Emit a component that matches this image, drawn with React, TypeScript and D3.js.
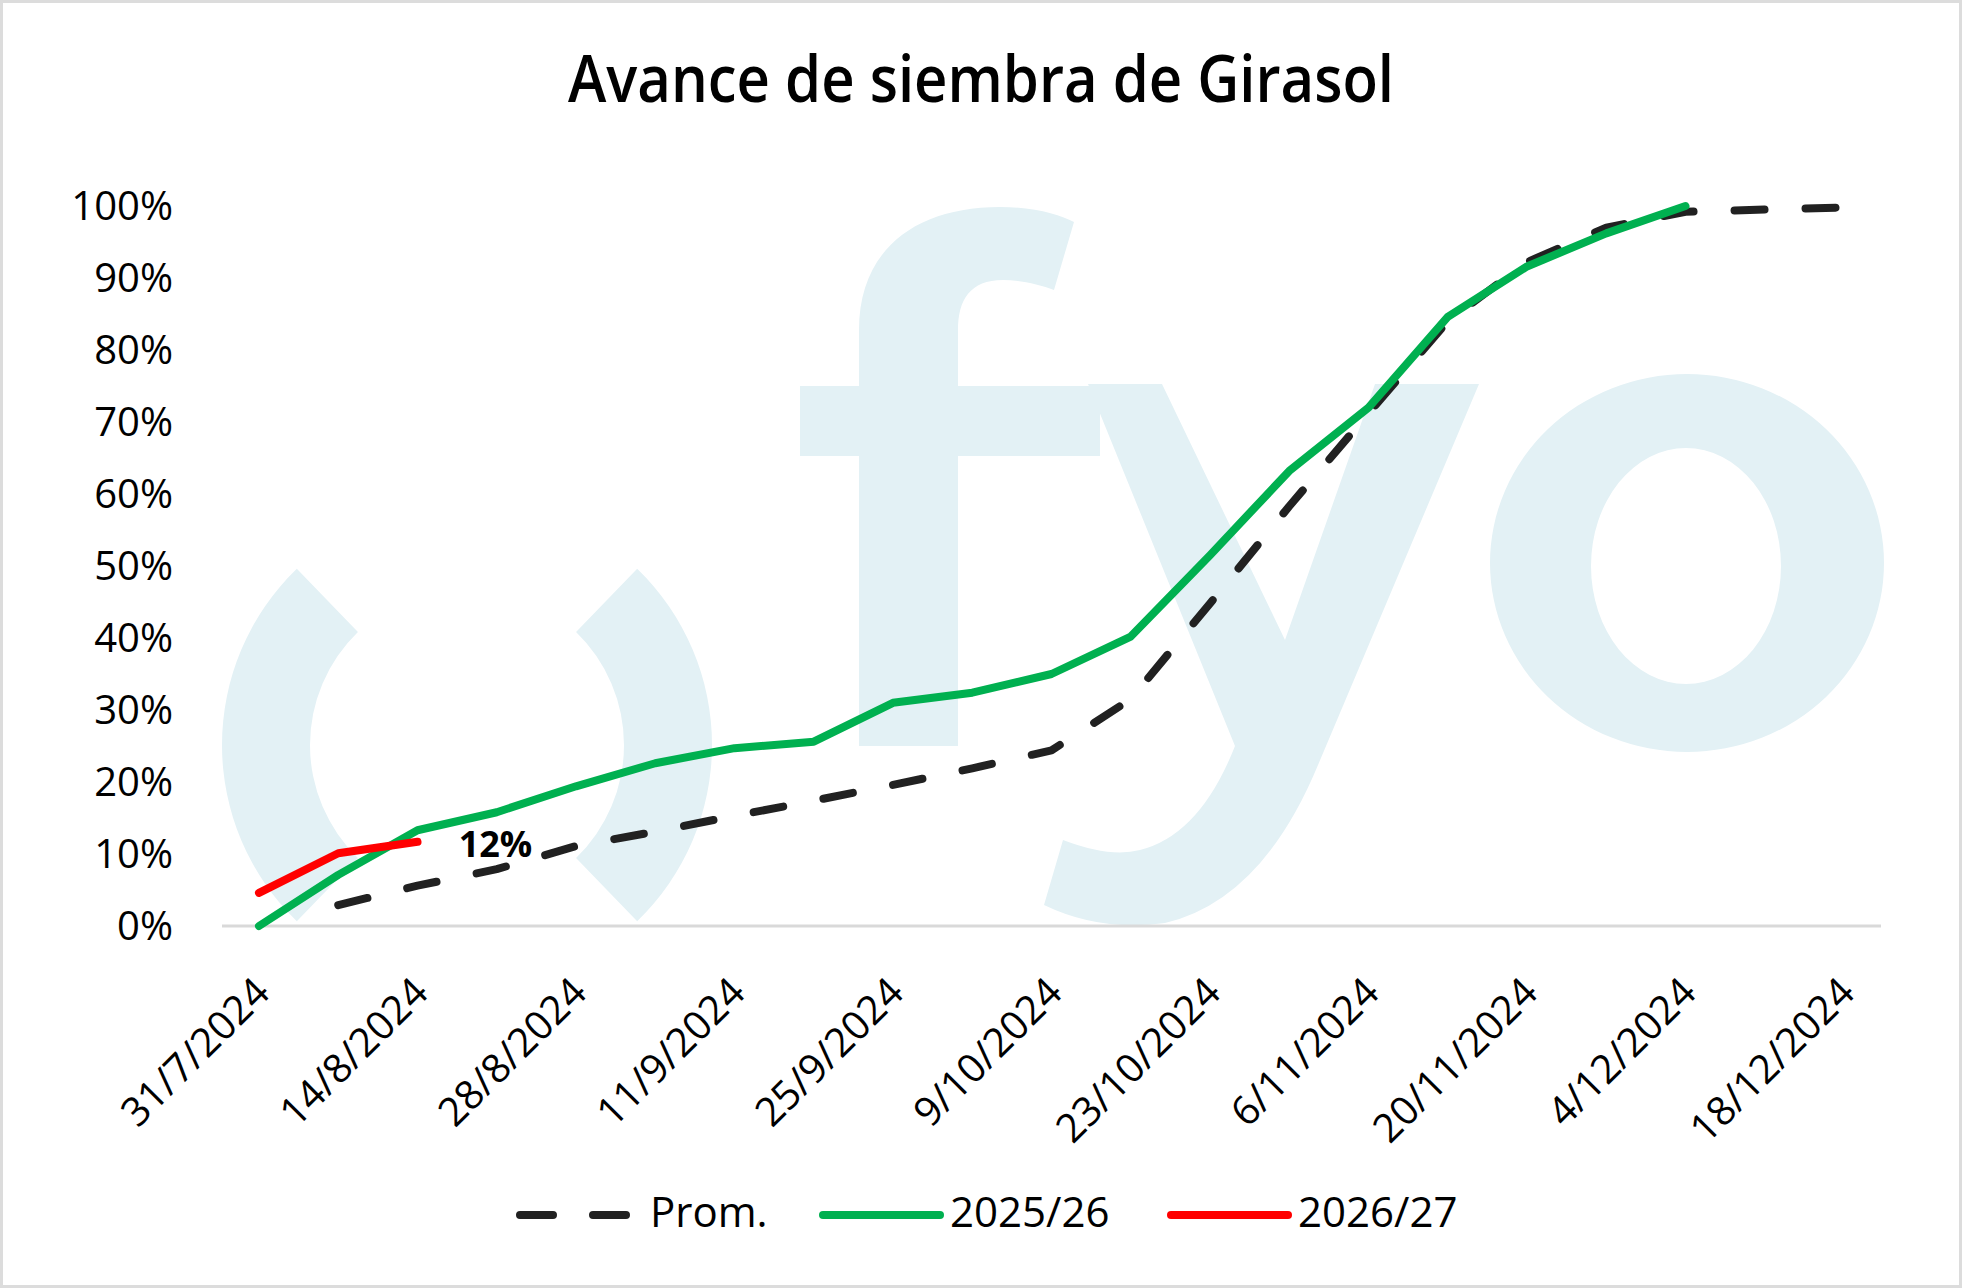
import * as d3 from "d3";
import { useEffect, useRef } from "react";

// semanas (miércoles) desde 31/7 hasta 18/12
const weekDates = [
    "31/7/2024", "7/8/2024", "14/8/2024", "21/8/2024", "28/8/2024", "4/9/2024",
    "11/9/2024", "18/9/2024", "25/9/2024", "2/10/2024", "9/10/2024", "16/10/2024",
    "23/10/2024", "30/10/2024", "6/11/2024", "13/11/2024", "20/11/2024", "27/11/2024",
    "4/12/2024", "11/12/2024", "18/12/2024",
];

const promValues = [
    null, 2.9, 5.6, 7.9, 11.1, 13.1, 15.3, 17.4, 19.6, 21.9, 24.4, 31.5,
    44.8, 58.3, 71.2, 84.0, 92.2, 97.0, 99.2, 99.5, 99.8,
];

const values2526 = [
    0, 7.1, 13.3, 15.8, 19.4, 22.6, 24.7, 25.6, 31.0, 32.4, 35.0, 40.2,
    51.5, 63.2, 72.0, 84.6, 91.6, 96.2, 100, null, null,
];

const values2627 = [
    4.6, 10.1, 11.7, null, null, null, null, null, null, null, null, null,
    null, null, null, null, null, null, null, null, null,
];

const tickLabels = [
    "31/7/2024", "14/8/2024", "28/8/2024", "11/9/2024", "25/9/2024", "9/10/2024",
    "23/10/2024", "6/11/2024", "20/11/2024", "4/12/2024", "18/12/2024",
];

const yTicks = [0, 10, 20, 30, 40, 50, 60, 70, 80, 90, 100];

const legendItems = ["Prom.", "2025/26", "2026/27"];

interface Series {
    name: string;
    values: (number | null)[];
    color: string;
    dashed: boolean;
}

const WIDTH = 1962;
const HEIGHT = 1288;

export default function App() {
    const svgRef = useRef<SVGSVGElement | null>(null);

    useEffect(() => {
        const parse = d3.timeParse("%d/%m/%Y");
        const dates = weekDates.map((d) => parse(d)!);

        const series: Series[] = [
            { name: legendItems[0], values: promValues, color: "#212121", dashed: true },
            { name: legendItems[1], values: values2526, color: "#00B050", dashed: false },
            { name: legendItems[2], values: values2627, color: "#FF0000", dashed: false },
        ];

        const x = d3
            .scaleTime()
            .domain([dates[0], dates[dates.length - 1]])
            .range([259, 1844]);

        const y = d3.scaleLinear().domain([0, 100]).range([926, 206]);

        const svg = d3.select(svgRef.current);
        svg.selectAll("*").remove();

        const font = "'Open Sans', 'Noto Sans', sans-serif";

        svg.append("rect")
            .attr("width", WIDTH)
            .attr("height", HEIGHT)
            .attr("fill", "#ffffff");

        svg.append("rect")
            .attr("x", 1.5)
            .attr("y", 1.5)
            .attr("width", WIDTH - 3)
            .attr("height", HEIGHT - 3)
            .attr("fill", "none")
            .attr("stroke", "#DCDCDC")
            .attr("stroke-width", 3);

        // Marca de agua "(fyo"
        const wm = svg.append("g").attr("fill", "#E3F1F5");
        const ring = d3.arc<any>().innerRadius(157).outerRadius(245);
        wm.append("path")
            .attr("transform", "translate(467,745)")
            .attr("d", ring({ startAngle: (-136 * Math.PI) / 180, endAngle: (-44 * Math.PI) / 180 })!);
        wm.append("path")
            .attr("transform", "translate(467,745)")
            .attr("d", ring({ startAngle: (44 * Math.PI) / 180, endAngle: (136 * Math.PI) / 180 })!);
        wm.append("path").attr(
            "d",
            "M859,456 L800,456 L800,386 L859,386 L859,330 C859,250 915,207 1000,207 C1035,207 1060,215 1074,222 L1054,290 C1040,285 1020,280 1003,280 C970,280 958,300 958,330 L958,386 L1100,386 L1100,456 L958,456 L958,746 L859,746 Z"
        );
        wm.append("path").attr(
            "d",
            "M1088,384 L1162,384 L1285,640 L1375,384 L1479,384 L1318,765 Q1262,900 1165,923 Q1100,932 1044,905 L1063,840 Q1110,858 1140,850 Q1200,835 1235,746 Z"
        );
        wm.append("path")
            .attr("fill-rule", "evenodd")
            .attr(
                "d",
                "M1490,563 A197,189 0 1,0 1884,563 A197,189 0 1,0 1490,563 Z M1591,566 A95,118 0 1,0 1781,566 A95,118 0 1,0 1591,566 Z"
            );

        // Título
        svg.append("text")
            .attr("x", 981)
            .attr("y", 102)
            .attr("text-anchor", "middle")
            .attr("font-family", font)
            .attr("font-weight", 600)
            .attr("font-size", 66)
            .attr("textLength", 826)
            .attr("lengthAdjust", "spacingAndGlyphs")
            .attr("fill", "#000")
            .text("Avance de siembra de Girasol");

        // Eje Y
        svg.append("g")
            .selectAll("text")
            .data(yTicks)
            .enter()
            .append("text")
            .attr("x", 173)
            .attr("y", (d) => y(d))
            .attr("dy", "0.35em")
            .attr("text-anchor", "end")
            .attr("font-family", font)
            .attr("font-size", 40)
            .attr("fill", "#000")
            .text((d) => `${d}%`);

        // Línea del eje X
        svg.append("line")
            .attr("x1", 222)
            .attr("x2", 1881)
            .attr("y1", y(0))
            .attr("y2", y(0))
            .attr("stroke", "#D9D9D9")
            .attr("stroke-width", 3);

        // Etiquetas del eje X
        svg.append("g")
            .selectAll("text")
            .data(tickLabels)
            .enter()
            .append("text")
            .attr("transform", (d) => `translate(${x(parse(d)!) + 3},985) rotate(-45)`)
            .attr("dy", "0.35em")
            .attr("text-anchor", "end")
            .attr("font-family", font)
            .attr("font-size", 40)
            .attr("fill", "#000")
            .text((d) => d);

        // Series
        series.forEach((s) => {
            const line = d3
                .line<number | null>()
                .defined((v) => v !== null)
                .x((_, i) => x(dates[i]))
                .y((v) => y(v as number));
            svg.append("path")
                .datum(s.values)
                .attr("d", line)
                .attr("fill", "none")
                .attr("stroke", s.color)
                .attr("stroke-width", 8)
                .attr("stroke-linecap", "round")
                .attr("stroke-linejoin", "round")
                .attr("stroke-dasharray", s.dashed ? "30 41" : null);
        });

        // Etiqueta de dato
        const lastIdx = values2627.reduce((acc: number, v, i) => (v !== null ? i : acc), 0);
        svg.append("text")
            .attr("x", x(dates[lastIdx]) + 78)
            .attr("y", y(values2627[lastIdx] as number) + 15)
            .attr("text-anchor", "middle")
            .attr("font-family", font)
            .attr("font-weight", 700)
            .attr("font-size", 36)
            .attr("fill", "#000")
            .text(`${Math.round(values2627[lastIdx] as number)}%`);

        // Leyenda
        const legendX = [520, 823, 1171];
        const legendY = 1215;
        const legend = svg.append("g");
        series.forEach((s, i) => {
            legend.append("line")
                .attr("x1", legendX[i])
                .attr("x2", legendX[i] + 117)
                .attr("y1", legendY)
                .attr("y2", legendY)
                .attr("stroke", s.color)
                .attr("stroke-width", 8)
                .attr("stroke-linecap", "round")
                .attr("stroke-dasharray", s.dashed ? "33 40" : null);
            legend.append("text")
                .attr("x", legendX[i] + (s.dashed ? 130 : 127))
                .attr("y", legendY + 12)
                .attr("font-family", font)
                .attr("font-size", 42)
                .attr("fill", "#000")
                .text(s.name);
        });
    }, []);

    return (
        <svg
            ref={svgRef}
            width={WIDTH}
            height={HEIGHT}
            style={{ position: "absolute", left: 0, top: 0 }}
        ></svg>
    );
}
